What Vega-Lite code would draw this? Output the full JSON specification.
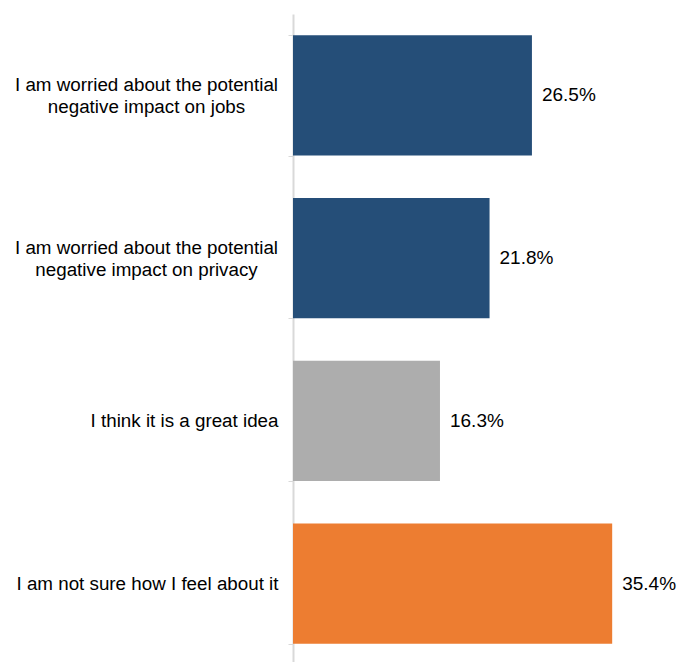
{
  "$schema": "https://vega.github.io/schema/vega-lite/v6.json",
  "autosize": "none",
  "width": 385,
  "height": 651,
  "padding": {"left": 293, "top": 14, "right": 0, "bottom": 0},
  "background": "white",
  "data": {
    "values": [
      {"label": "I am worried about the potential\nnegative impact on jobs", "value": 0.265, "group": "a"},
      {"label": "I am worried about the potential\nnegative impact on privacy", "value": 0.218, "group": "a"},
      {"label": "I think it is a great idea", "value": 0.163, "group": "b"},
      {"label": "I am not sure how I feel about it", "value": 0.354, "group": "c"}
    ]
  },
  "encoding": {
    "y": {
      "field": "label",
      "type": "nominal",
      "sort": null,
      "scale": {"paddingInner": 0.26, "paddingOuter": 0.13},
      "axis": {
        "title": null,
        "labelExpr": "datum.value ? split(datum.value, '\\n') : ''",
        "labelAlign": {"condition": {"test": "datum.value && indexof(datum.value, '\\n') >= 0", "value": "center"}, "value": "right"},
        "labelPadding": {"condition": {"test": "datum.value && indexof(datum.value, '\\n') >= 0", "value": 142}, "value": 10},
        "labelFont": "Liberation Sans",
        "labelFontSize": 18.8,
        "labelColor": "#000000",
        "labelLineHeight": 22,
        "labelLimit": 400,
        "labelOffset": {"condition": {"test": "datum.value && indexof(datum.value, '\\n') >= 0", "value": -11}, "value": 0},
        "tickBand": "extent",
        "tickSize": 5,
        "tickColor": "#D9D9D9",
        "tickWidth": 1,
        "domainColor": "#D9D9D9",
        "domainWidth": 2,
        "grid": false
      }
    },
    "x": {
      "field": "value",
      "type": "quantitative",
      "scale": {"domain": [0, 0.427], "nice": false},
      "axis": null
    }
  },
  "layer": [
    {
      "mark": {"type": "bar"},
      "encoding": {
        "color": {
          "field": "group",
          "type": "nominal",
          "scale": {"domain": ["a", "b", "c"], "range": ["#254E78", "#ADADAD", "#ED7D31"]},
          "legend": null
        }
      }
    },
    {
      "mark": {"type": "text", "align": "left", "dx": 10, "font": "Liberation Sans", "fontSize": 19, "color": "#000000"},
      "encoding": {
        "text": {"field": "value", "type": "quantitative", "format": ".1%"}
      }
    }
  ],
  "config": {"view": {"stroke": null}}
}
